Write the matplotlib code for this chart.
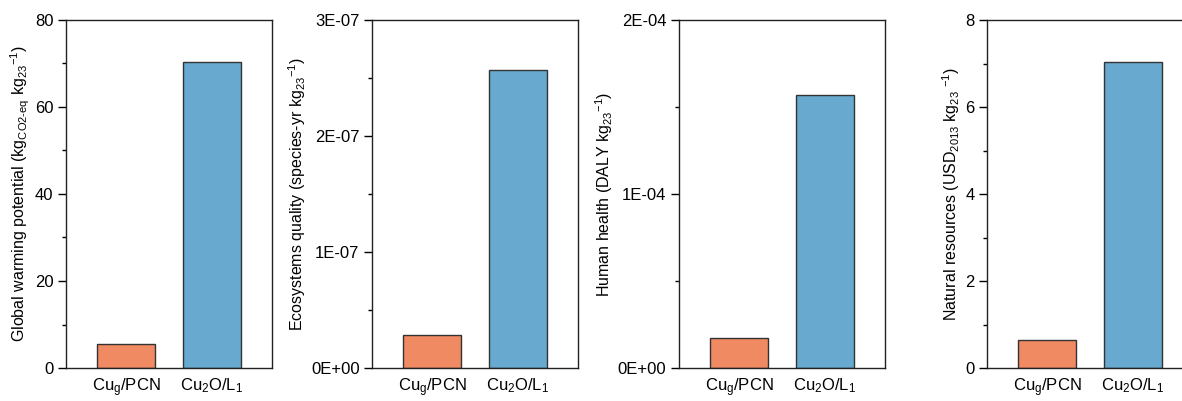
import numpy as np
import matplotlib
matplotlib.use('Agg')
import matplotlib.pyplot as plt
from matplotlib.ticker import MultipleLocator, FuncFormatter

plt.rcParams['font.family'] = ['Liberation Sans', 'DejaVu Sans']
plt.rcParams['mathtext.fontset'] = 'custom'
plt.rcParams['mathtext.rm'] = 'Liberation Sans'
plt.rcParams['mathtext.it'] = 'Liberation Sans:italic'
plt.rcParams['mathtext.bf'] = 'Liberation Sans:bold'
plt.rcParams['font.size'] = 11

# data
categories = [r'Cu$_\mathrm{g}$/PCN', r'Cu$_2$O/L$_1$']
gwp = [5.5, 70.3]
ecosystems = [2.87e-8, 2.57e-7]
human = [1.72e-5, 1.571e-4]
resources = [0.635, 7.03]

ylabels = [
    r'Global warming potential (kg$_{\mathrm{CO2\text{-}eq}}$ kg$_{23}$$^{-1}$)',
    r'Ecosystems quality (species-yr kg$_{23}$$^{-1}$)',
    r'Human health (DALY kg$_{23}$$^{-1}$)',
    r'Natural resources (USD$_{2013}$ kg$_{23}$ $^{-1}$)',
]
ylims = [80, 3e-7, 2e-4, 8]
majors = [20, 1e-7, 1e-4, 2]
sci = [False, True, True, False]
colors = ['#EF8A62', '#67A9CF']

fig = plt.figure(figsize=(11.82, 4.01), dpi=100)
W, H = 1182, 401
lefts = [66, 372, 679, 987]
aw, top, bot = 206, 20, 368

for i, vals in enumerate([gwp, ecosystems, human, resources]):
    ax = fig.add_axes([lefts[i] / W, 1 - bot / H, aw / W, (bot - top) / H])
    x = np.arange(len(categories))
    ax.bar(x, vals, width=0.67, color=colors, edgecolor='#333333', linewidth=1)
    ax.set_xlim(-0.7, 1.7)
    ax.set_ylim(0, ylims[i])
    ax.set_xticks(x)
    ax.set_xticklabels(categories, fontsize=12)
    ax.tick_params(axis='x', length=0, pad=6)
    ax.yaxis.set_major_locator(MultipleLocator(majors[i]))
    ax.yaxis.set_minor_locator(MultipleLocator(majors[i] / 2))
    ax.tick_params(axis='y', which='major', direction='out', length=6, width=1, labelsize=12, pad=3)
    ax.tick_params(axis='y', which='minor', direction='out', length=3, width=1)
    if sci[i]:
        ax.yaxis.set_major_formatter(FuncFormatter(lambda v, p: f'{v:.0E}'))
    ax.set_ylabel(ylabels[i], fontsize=11.5, labelpad=2)
    for s in ax.spines.values():
        s.set_linewidth(1)
        s.set_color('#222222')

fig.savefig('out.png', dpi=100)
